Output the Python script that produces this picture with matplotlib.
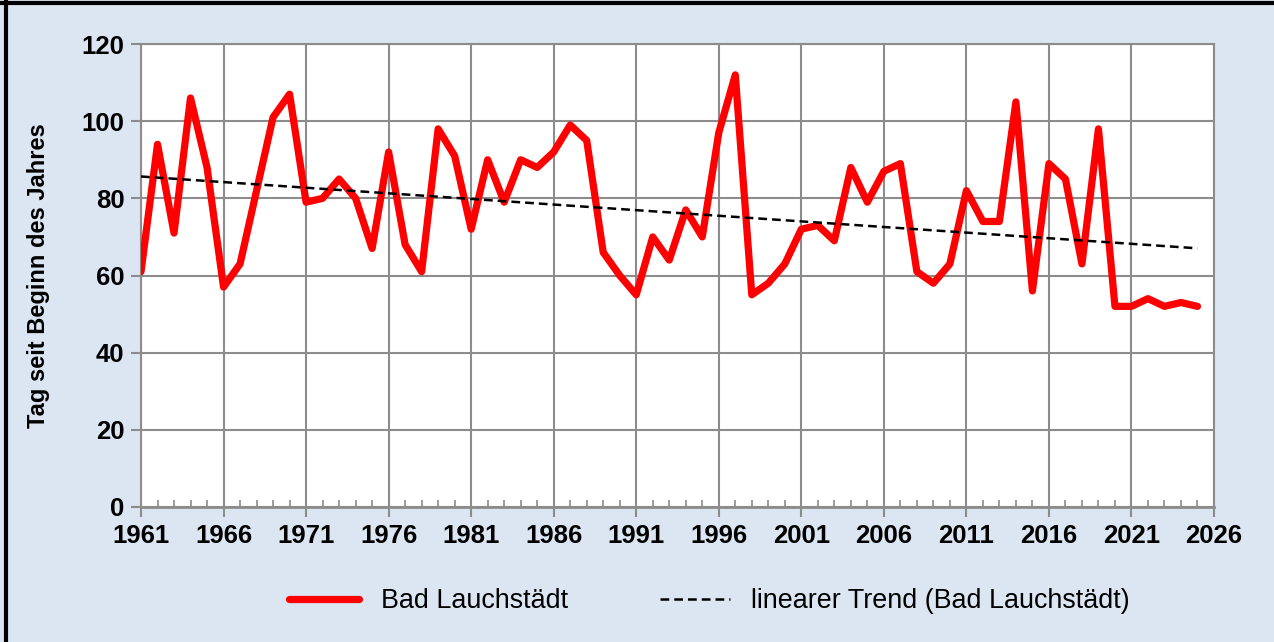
import numpy as np
import matplotlib
matplotlib.use("Agg")
import matplotlib.pyplot as plt
from matplotlib.lines import Line2D
from matplotlib.ticker import MultipleLocator

plt.rcParams["font.family"] = ["Liberation Sans", "DejaVu Sans"]

# Daten: Tag seit Beginn des Jahres, Bad Lauchstädt
jahre = np.arange(1961, 2026)
tage = [
    61, 94, 71, 106, 88, 57, 63, 82, 101, 107,
    79, 80, 85, 80, 67, 92, 68, 61, 98, 91,
    72, 90, 79, 90, 88, 92, 99, 95, 66, 60,
    55, 70, 64, 77, 70, 97, 112, 55, 58, 63,
    72, 73, 69, 88, 79, 87, 89, 61, 58, 63,
    82, 74, 74, 105, 56, 89, 85, 63, 98, 52,
    52, 54, 52, 53, 52,
]
x_ticks = np.arange(1961, 2027, 5)
y_ticks = np.arange(0, 121, 20)

# linearer Trend
k, d = np.polyfit(jahre, tage, 1)
trend = k * jahre + d

hintergrund = "#dce6f2"
grau = "#8c8c8c"

fig = plt.figure(figsize=(12.74, 6.42), dpi=100, facecolor=hintergrund)
ax = fig.add_axes([141 / 1274, 135 / 642, 1073 / 1274, 463 / 642])
ax.set_facecolor("white")

ax.plot(jahre, tage, color="#ff0000", linewidth=5.2, solid_joinstyle="round",
        solid_capstyle="round", label="Bad Lauchstädt", zorder=3)
ax.plot(jahre, trend, color="black", linewidth=1.8, dashes=(3.5, 2),
        label="linearer Trend (Bad Lauchstädt)", zorder=4)

ax.set_xlim(1961, 2026)
ax.set_ylim(0, 120)
ax.set_xticks(x_ticks)
ax.set_yticks(y_ticks)
ax.xaxis.set_minor_locator(MultipleLocator(1))
ax.grid(True, which="major", color=grau, linewidth=1.5)
ax.set_axisbelow(True)

for s in ax.spines.values():
    s.set_color(grau)
    s.set_linewidth(1.5)
ax.spines["bottom"].set_linewidth(2)

ax.tick_params(axis="both", which="major", color=grau, width=1.5, length=7,
               direction="out", labelsize=18.5, pad=5)
ax.tick_params(axis="x", which="minor", color=grau, width=1.2, length=5,
               direction="in")
for lbl in ax.get_xticklabels() + ax.get_yticklabels():
    lbl.set_fontweight("bold")

ax.set_ylabel("Tag seit Beginn des Jahres", fontsize=17, fontweight="bold")
ax.yaxis.set_label_coords(-0.085, 0.5)

fig.legend(loc="center", bbox_to_anchor=(0.557, 41 / 642), ncol=2,
           frameon=False, fontsize=19.4, handlelength=2.6, columnspacing=3.4,
           handletextpad=0.8)

# schwarzer Rahmen links und oben
fig.add_artist(Line2D([6 / 1274, 6 / 1274], [0, 1], color="black", linewidth=3,
                      transform=fig.transFigure))
fig.add_artist(Line2D([0, 1], [1 - 2.5 / 642, 1 - 2.5 / 642], color="black",
                      linewidth=3, transform=fig.transFigure))

fig.savefig("out.png", dpi=100, facecolor=hintergrund)
plt.close(fig)
